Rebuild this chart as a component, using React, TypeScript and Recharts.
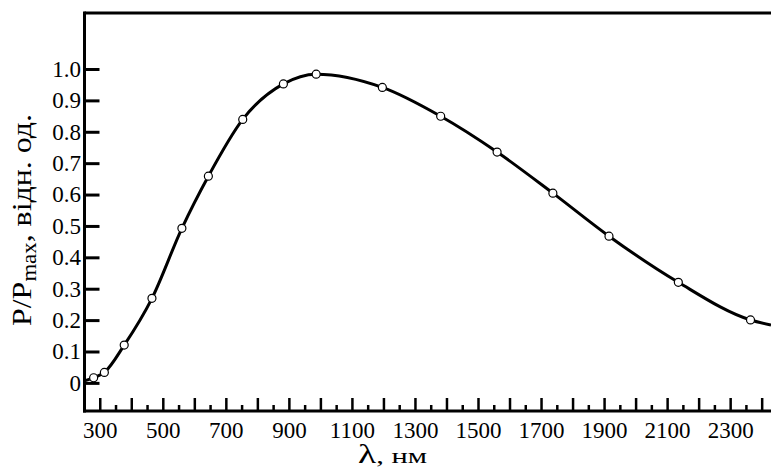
import React from "react";
import { ComposedChart, Line, XAxis, YAxis, ReferenceLine } from "recharts";

// Measured points (wavelength, nm) and relative power P/Pmax
const WAVELENGTHS = [279, 313, 376, 464, 559, 643, 752, 881, 985, 1195, 1380, 1559, 1736, 1914, 2134, 2363];
const VALUES = [0.018, 0.035, 0.122, 0.271, 0.494, 0.66, 0.841, 0.954, 0.985, 0.943, 0.851, 0.737, 0.606, 0.469, 0.322, 0.202];

// Where the drawn curve meets the frame
const CURVE_START = { nm: 250, v: 0.008 };
const CURVE_END = { nm: 2428, v: 0.186 };

const X_MAJOR_TICKS = [300, 400, 500, 600, 700, 800, 900, 1000, 1100, 1200, 1300, 1400, 1500, 1600, 1700, 1800, 1900, 2000, 2100, 2200, 2300, 2400];
const X_MINOR_TICKS = [350, 450, 550, 650, 750, 850, 950, 1050, 1150, 1250, 1350, 1450, 1550, 1650, 1750, 1850, 1950, 2050, 2150, 2250, 2350];
const X_LABELS = [300, 500, 700, 900, 1100, 1300, 1500, 1700, 1900, 2100, 2300];
const Y_TICKS = [0, 0.1, 0.2, 0.3, 0.4, 0.5, 0.6, 0.7, 0.8, 0.9, 1.0];
const Y_LABELS = ["0", "0.1", "0.2", "0.3", "0.4", "0.5", "0.6", "0.7", "0.8", "0.9", "1.0"];

const X_DOMAIN: [number, number] = [250, 2428];
const Y_DOMAIN: [number, number] = [-0.088, 1.18];

const X_TITLE = "λ";
const X_TITLE_UNIT = ", нм";
const Y_TITLE_MAIN = "P/P";
const Y_TITLE_SUB = "max";
const Y_TITLE_REST = ", відн. од.";

const FONT = "'Liberation Serif', 'Times New Roman', serif";

const pointData = WAVELENGTHS.map((nm, i) => ({ nm, v: VALUES[i] }));
const curveData = [CURVE_START, ...pointData, CURVE_END];
const xTicks = [...X_MAJOR_TICKS, ...X_MINOR_TICKS].sort((a, b) => a - b);

const XTick = (props: any) => {
  const { x, y, payload } = props;
  const v = payload.value;
  const major = X_MAJOR_TICKS.includes(v);
  const len = major ? 13 : 6;
  return (
    <g>
      <line x1={x} x2={x} y1={y} y2={y - len} stroke="#000" strokeWidth={2.5} />
      {X_LABELS.includes(v) && (
        <text x={x} y={y + 27} textAnchor="middle" fontSize={23} fontFamily={FONT} fill="#000">
          {v}
        </text>
      )}
    </g>
  );
};

const YTick = (props: any) => {
  const { x, y, payload } = props;
  const idx = Y_TICKS.findIndex((t) => Math.abs(t - payload.value) < 1e-9);
  return (
    <g>
      <line x1={x} x2={x + 15} y1={y} y2={y} stroke="#000" strokeWidth={3} />
      <text x={x - 3.5} y={y + 7.4} textAnchor="end" fontSize={23} fontFamily={FONT} fill="#000">
        {idx >= 0 ? Y_LABELS[idx] : payload.value}
      </text>
    </g>
  );
};

const XTitle = () => (
  <text x={358} y={463} fontFamily={FONT} fill="#000" textLength={69} lengthAdjust="spacingAndGlyphs">
    <tspan fontSize={27}>{X_TITLE}</tspan>
    <tspan fontSize={22}>{X_TITLE_UNIT}</tspan>
  </text>
);

const YTitle = () => (
  <text
    x={0}
    y={0}
    transform="translate(31, 220) rotate(-90)"
    textAnchor="middle"
    fontFamily={FONT}
    fill="#000"
    textLength={212}
    lengthAdjust="spacingAndGlyphs"
  >
    <tspan fontSize={28}>{Y_TITLE_MAIN}</tspan>
    <tspan fontSize={20} dy={5}>{Y_TITLE_SUB}</tspan>
    <tspan fontSize={28} dy={-5}>{Y_TITLE_REST}</tspan>
  </text>
);

export default function App() {
  return (
    <div style={{ position: "absolute", left: 0, top: 0, background: "#fff" }}>
      <ComposedChart
        width={771}
        height={470}
        data={curveData}
        margin={{ top: 13, right: 0, bottom: 0, left: 24.5 }}
      >
        <XAxis
          dataKey="nm"
          type="number"
          domain={X_DOMAIN}
          allowDataOverflow
          ticks={xTicks}
          interval={0}
          tickSize={0}
          tickMargin={0}
          tickLine={false}
          tick={<XTick />}
          height={59}
          axisLine={{ stroke: "#000", strokeWidth: 3, strokeLinecap: "square" }}
          label={{ content: <XTitle /> }}
        />
        <YAxis
          type="number"
          domain={Y_DOMAIN}
          allowDataOverflow
          ticks={Y_TICKS}
          interval={0}
          tickSize={0}
          tickMargin={0}
          tickLine={false}
          tick={<YTick />}
          width={60}
          axisLine={{ stroke: "#000", strokeWidth: 3, strokeLinecap: "square" }}
          label={{ content: <YTitle /> }}
        />
        <ReferenceLine y={Y_DOMAIN[1]} stroke="#000" strokeWidth={3} ifOverflow="visible" />
        <Line
          data={curveData}
          dataKey="v"
          type="monotone"
          stroke="#000"
          strokeWidth={3}
          dot={false}
          activeDot={false}
          isAnimationActive={false}
        />
        <Line
          data={pointData}
          dataKey="v"
          type="monotone"
          stroke="none"
          dot={{ r: 4, fill: "#fff", stroke: "#000", strokeWidth: 1.2 }}
          activeDot={false}
          isAnimationActive={false}
        />
      </ComposedChart>
    </div>
  );
}
